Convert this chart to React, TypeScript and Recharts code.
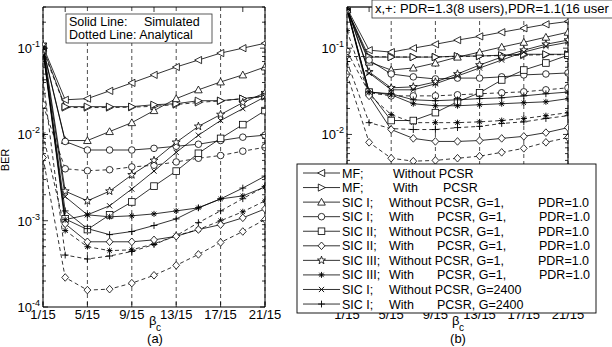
import { CartesianGrid, Line, LineChart, XAxis, YAxis } from "recharts";

// beta_c in units of 1/15
const betaN = [1, 3, 5, 7, 9, 11, 13, 15, 17, 19, 21];
const xTicks = [1, 5, 9, 13, 17, 21];
const decadeTicks = [1e-4, 1e-3, 1e-2, 1e-1];
const yTicks = [
  1e-4, 2e-4, 3e-4, 4e-4, 5e-4, 6e-4, 7e-4, 8e-4, 9e-4,
  1e-3, 2e-3, 3e-3, 4e-3, 5e-3, 6e-3, 7e-3, 8e-3, 9e-3,
  1e-2, 2e-2, 3e-2, 4e-2, 5e-2, 6e-2, 7e-2, 8e-2, 9e-2,
  1e-1, 2e-1, 3e-1,
];

// (a) 8 users
const leftMfWithout = [0.105, 0.0252, 0.026, 0.032, 0.0396, 0.049, 0.0605, 0.0728, 0.0877, 0.1, 0.114];
const leftMfWith = [0.1, 0.021, 0.021, 0.021, 0.021, 0.0221, 0.0227, 0.0246, 0.0246, 0.026, 0.028];
const leftMfWithAna = [0.095, 0.0205, 0.0205, 0.0205, 0.0207, 0.0212, 0.0222, 0.0235, 0.0245, 0.026, 0.0275];
const leftSic1Without = [0.1, 0.0085, 0.0085, 0.0108, 0.0137, 0.0189, 0.026, 0.0329, 0.0406, 0.049, 0.0605];
const leftSic1With = [0.098, 0.0083, 0.0066, 0.0066, 0.0066, 0.0069, 0.0073, 0.0077, 0.0085, 0.0093, 0.0098];
const leftSic1WithAna = [0.022, 0.004, 0.0038, 0.0039, 0.0042, 0.0044, 0.0048, 0.0053, 0.0057, 0.0064, 0.0071];
const leftSic2Without = [0.095, 0.00105, 0.00079, 0.00117, 0.00165, 0.00252, 0.00376, 0.00605, 0.009, 0.013, 0.0189];
const leftSic2With = [0.093, 0.00092, 0.00057, 0.00057, 0.00057, 0.0006, 0.00066, 0.00079, 0.0009, 0.00108, 0.00137];
const leftSic2WithAna = [0.0054, 0.00022, 0.000157, 0.000161, 0.000189, 0.000233, 0.000304, 0.000407, 0.00056, 0.00075, 0.00103];
const leftSic3Without = [0.11, 0.0022, 0.0017, 0.0022, 0.0034, 0.005, 0.0081, 0.0124, 0.017, 0.0234, 0.0304];
const leftSic3With = [0.1, 0.00103, 0.00117, 0.00111, 0.00114, 0.0012, 0.0013, 0.00141, 0.00179, 0.00194, 0.00246];
const leftSic3WithAna = [0.01, 0.00077, 0.0005, 0.00045, 0.00046, 0.00054, 0.00067, 0.00079, 0.001, 0.00127, 0.0017];
const leftG2400Without = [0.1, 0.0019, 0.00117, 0.00149, 0.00233, 0.00376, 0.0062, 0.0098, 0.0145, 0.0199, 0.0273];
const leftG2400With = [0.097, 0.0013, 0.00081, 0.00069, 0.00075, 0.00088, 0.00105, 0.00141, 0.00179, 0.00239, 0.00329];
const leftG2400WithAna = [0.043, 0.0004, 0.00036, 0.00039, 0.00044, 0.00053, 0.00067, 0.00095, 0.0013, 0.0018, 0.0025];

// (b) 16 users
const rightMfWithout = [0.29, 0.0948, 0.09, 0.1, 0.111, 0.124, 0.137, 0.153, 0.17, 0.189, 0.204];
const rightMfWith = [0.28, 0.0788, 0.0788, 0.0788, 0.0788, 0.081, 0.081, 0.083, 0.085, 0.085, 0.085];
const rightMfWithAna = [0.08, 0.08, 0.079, 0.079, 0.079, 0.08, 0.081, 0.082, 0.083, 0.084, 0.084];
const rightSic1Without = [0.28, 0.069, 0.0558, 0.0589, 0.0673, 0.0788, 0.09, 0.103, 0.117, 0.134, 0.153];
const rightSic1With = [0.28, 0.0728, 0.0502, 0.0465, 0.044, 0.045, 0.045, 0.0465, 0.049, 0.0502, 0.0516];
const rightSic1WithAna = [0.092, 0.0304, 0.028, 0.028, 0.028, 0.0288, 0.0296, 0.0304, 0.0312, 0.0329, 0.0347];
const rightSic2Without = [0.28, 0.031, 0.0145, 0.0145, 0.0179, 0.0239, 0.0304, 0.0428, 0.0558, 0.0673, 0.083];
const rightSic2With = [0.28, 0.028, 0.0114, 0.009, 0.0083, 0.0083, 0.0085, 0.009, 0.0095, 0.0105, 0.012];
const rightSic2WithAna = [0.05, 0.0081, 0.0053, 0.0049, 0.005, 0.0053, 0.0056, 0.0062, 0.0069, 0.0081, 0.0092];
const rightSic3Without = [0.3, 0.053, 0.0347, 0.0356, 0.0406, 0.0502, 0.0638, 0.0788, 0.0948, 0.111, 0.124];
const rightSic3With = [0.29, 0.0312, 0.0288, 0.0227, 0.0215, 0.0215, 0.0221, 0.0227, 0.0233, 0.0239, 0.026];
const rightSic3WithAna = [0.16, 0.0288, 0.017, 0.0137, 0.0137, 0.0137, 0.014, 0.0145, 0.0153, 0.0165, 0.0179];
const rightG2400Without = [0.29, 0.0516, 0.0329, 0.0329, 0.0386, 0.0476, 0.0589, 0.0728, 0.09, 0.105, 0.117];
const rightG2400With = [0.28, 0.031, 0.0296, 0.0252, 0.0246, 0.0252, 0.026, 0.0266, 0.028, 0.0296, 0.031];
const rightG2400WithAna = [0.07, 0.0137, 0.0117, 0.0114, 0.0114, 0.012, 0.0124, 0.0134, 0.014, 0.0153, 0.0165];

const legendLabels = [
  ["MF;", "Without PCSR"],
  ["MF;", "With", "PCSR"],
  ["SIC I;", "Without PCSR, G=1,", "PDR=1.0"],
  ["SIC I;", "With", "PCSR, G=1,", "PDR=1.0"],
  ["SIC II;", "Without PCSR, G=1,", "PDR=1.0"],
  ["SIC II;", "With", "PCSR, G=1,", "PDR=1.0"],
  ["SIC III;", "Without PCSR, G=1,", "PDR=1.0"],
  ["SIC III;", "With", "PCSR, G=1,", "PDR=1.0"],
  ["SIC I;", "Without PCSR, G=2400"],
  ["SIC I;", "With", "PCSR, G=2400"],
];
const legendMarkers = ["triLeft", "triRight", "triUp", "circle", "square", "diamond", "star", "asterisk", "cross", "plus"];

type Series = { key: string; values: number[]; marker: string; dashed: boolean };

const leftSeries: Series[] = [
  { key: "mfWithAna", values: leftMfWithAna, marker: "triRight", dashed: true },
  { key: "sic1WithAna", values: leftSic1WithAna, marker: "circle", dashed: true },
  { key: "sic2WithAna", values: leftSic2WithAna, marker: "diamond", dashed: true },
  { key: "sic3WithAna", values: leftSic3WithAna, marker: "asterisk", dashed: true },
  { key: "g2400WithAna", values: leftG2400WithAna, marker: "plus", dashed: true },
  { key: "mfWithout", values: leftMfWithout, marker: "triLeft", dashed: false },
  { key: "mfWith", values: leftMfWith, marker: "triRight", dashed: false },
  { key: "sic1Without", values: leftSic1Without, marker: "triUp", dashed: false },
  { key: "sic1With", values: leftSic1With, marker: "circle", dashed: false },
  { key: "sic2Without", values: leftSic2Without, marker: "square", dashed: false },
  { key: "sic2With", values: leftSic2With, marker: "diamond", dashed: false },
  { key: "sic3Without", values: leftSic3Without, marker: "star", dashed: false },
  { key: "sic3With", values: leftSic3With, marker: "asterisk", dashed: false },
  { key: "g2400Without", values: leftG2400Without, marker: "cross", dashed: false },
  { key: "g2400With", values: leftG2400With, marker: "plus", dashed: false },
];

const rightSeries: Series[] = [
  { key: "mfWithAna", values: rightMfWithAna, marker: "triRight", dashed: true },
  { key: "sic1WithAna", values: rightSic1WithAna, marker: "circle", dashed: true },
  { key: "sic2WithAna", values: rightSic2WithAna, marker: "diamond", dashed: true },
  { key: "sic3WithAna", values: rightSic3WithAna, marker: "asterisk", dashed: true },
  { key: "g2400WithAna", values: rightG2400WithAna, marker: "plus", dashed: true },
  { key: "mfWithout", values: rightMfWithout, marker: "triLeft", dashed: false },
  { key: "mfWith", values: rightMfWith, marker: "triRight", dashed: false },
  { key: "sic1Without", values: rightSic1Without, marker: "triUp", dashed: false },
  { key: "sic1With", values: rightSic1With, marker: "circle", dashed: false },
  { key: "sic2Without", values: rightSic2Without, marker: "square", dashed: false },
  { key: "sic2With", values: rightSic2With, marker: "diamond", dashed: false },
  { key: "sic3Without", values: rightSic3Without, marker: "star", dashed: false },
  { key: "sic3With", values: rightSic3With, marker: "asterisk", dashed: false },
  { key: "g2400Without", values: rightG2400Without, marker: "cross", dashed: false },
  { key: "g2400With", values: rightG2400With, marker: "plus", dashed: false },
];

const toRows = (series: Series[]) =>
  betaN.map((n, i) => {
    const row: Record<string, number> = { n };
    series.forEach((s) => (row[s.key] = s.values[i]));
    return row;
  });

const FONT = '"Liberation Sans", Arial, sans-serif';

function Marker({ cx, cy, kind }: { cx: number; cy: number; kind: string }) {
  const s = { stroke: "#000", strokeWidth: 0.8, fill: "#fff" };
  const l = { stroke: "#000", strokeWidth: 0.9 };
  switch (kind) {
    case "triLeft":
      return <polygon points={`${cx - 3.8},${cy} ${cx + 3.2},${cy - 3.6} ${cx + 3.2},${cy + 3.6}`} {...s} />;
    case "triRight":
      return <polygon points={`${cx + 3.8},${cy} ${cx - 3.2},${cy - 3.6} ${cx - 3.2},${cy + 3.6}`} {...s} />;
    case "triUp":
      return <polygon points={`${cx},${cy - 3.8} ${cx - 3.8},${cy + 3} ${cx + 3.8},${cy + 3}`} {...s} />;
    case "circle":
      return <circle cx={cx} cy={cy} r={3.3} {...s} />;
    case "square":
      return <rect x={cx - 3.3} y={cy - 3.3} width={6.6} height={6.6} {...s} />;
    case "diamond":
      return <polygon points={`${cx},${cy - 3.8} ${cx + 3.4},${cy} ${cx},${cy + 3.8} ${cx - 3.4},${cy}`} {...s} />;
    case "star": {
      const pts: string[] = [];
      for (let k = 0; k < 10; k++) {
        const r = k % 2 === 0 ? 4.2 : 1.7;
        const a = -Math.PI / 2 + (k * Math.PI) / 5;
        pts.push(`${cx + r * Math.cos(a)},${cy + r * Math.sin(a)}`);
      }
      return <polygon points={pts.join(" ")} {...s} />;
    }
    case "asterisk":
      return (
        <g>
          <line x1={cx - 3} x2={cx + 3} y1={cy} y2={cy} {...l} />
          <line x1={cx} x2={cx} y1={cy - 3} y2={cy + 3} {...l} />
          <line x1={cx - 2.2} x2={cx + 2.2} y1={cy - 2.2} y2={cy + 2.2} {...l} />
          <line x1={cx - 2.2} x2={cx + 2.2} y1={cy + 2.2} y2={cy - 2.2} {...l} />
        </g>
      );
    case "cross":
      return (
        <g>
          <line x1={cx - 2.6} x2={cx + 2.6} y1={cy - 2.6} y2={cy + 2.6} {...l} />
          <line x1={cx - 2.6} x2={cx + 2.6} y1={cy + 2.6} y2={cy - 2.6} {...l} />
        </g>
      );
    default:
      return (
        <g>
          <line x1={cx - 3.4} x2={cx + 3.4} y1={cy} y2={cy} {...l} />
          <line x1={cx} x2={cx} y1={cy - 3.4} y2={cy + 3.4} {...l} />
        </g>
      );
  }
}

const dotFor = (kind: string) => (p: any) => (
  <g key={`${kind}-${p.index}`}>
    <Marker cx={p.cx} cy={p.cy} kind={kind} />
  </g>
);

const isDecade = (v: number) => decadeTicks.some((d) => Math.abs(d - v) / d < 1e-6);

function YTickLeft({ x, y, payload }: any) {
  const v = payload.value;
  const major = isDecade(v);
  const exp = Math.round(Math.log10(v));
  return (
    <g>
      <line x1={x} x2={x + (major ? 5 : 3)} y1={y} y2={y} stroke="#000" strokeWidth={0.8} />
      {major && (
        <>
          <text x={x - 11} y={y + 5} textAnchor="end" fontSize={13} fontFamily={FONT}>10</text>
          <text x={x - 11} y={y - 1} fontSize={9} fontFamily={FONT}>{exp}</text>
        </>
      )}
    </g>
  );
}

function YTickRight({ x, y, payload }: any) {
  const major = isDecade(payload.value);
  return <line x1={x} x2={x - (major ? 5 : 3)} y1={y} y2={y} stroke="#000" strokeWidth={0.8} />;
}

function XTickBottom({ x, y, payload }: any) {
  return (
    <g>
      <line x1={x} x2={x} y1={y} y2={y - 5} stroke="#000" strokeWidth={0.8} />
      <text x={x} y={y + 12} textAnchor="middle" fontSize={13} fontFamily={FONT}>
        {`${payload.value}/15`}
      </text>
    </g>
  );
}

function XTickTop({ x, y }: any) {
  return <line x1={x} x2={x} y1={y} y2={y + 5} stroke="#000" strokeWidth={0.8} />;
}

function Panel({ series, left, marginLeft, marginRight }: { series: Series[]; left: number; marginLeft: number; marginRight: number }) {
  return (
    <div style={{ position: "absolute", left, top: 0 }}>
      <LineChart
        width={300}
        height={347}
        data={toRows(series)}
        margin={{ top: 6, right: marginRight, bottom: 39, left: marginLeft }}
      >
        <CartesianGrid horizontal={false} stroke="#000" strokeWidth={0.7} strokeDasharray="4 3" />
        <XAxis
          dataKey="n"
          type="number"
          domain={[1, 21]}
          ticks={xTicks}
          interval={0}
          height={1}
          tickSize={0}
          tickMargin={0}
          tickLine={false}
          axisLine={{ stroke: "#000" }}
          tick={<XTickBottom />}
          allowDataOverflow
        />
        <XAxis
          xAxisId="top"
          orientation="top"
          type="number"
          domain={[1, 21]}
          ticks={xTicks}
          interval={0}
          height={1}
          tickSize={0}
          tickMargin={0}
          tickLine={false}
          axisLine={{ stroke: "#000" }}
          tick={<XTickTop />}
          allowDataOverflow
        />
        <YAxis
          type="number"
          scale="log"
          domain={[1e-4, 0.3]}
          ticks={yTicks}
          interval={0}
          width={40}
          tickSize={0}
          tickMargin={0}
          tickLine={false}
          axisLine={{ stroke: "#000" }}
          tick={<YTickLeft />}
          allowDataOverflow
        />
        <YAxis
          yAxisId="right"
          orientation="right"
          type="number"
          scale="log"
          domain={[1e-4, 0.3]}
          ticks={yTicks}
          interval={0}
          width={1}
          tickSize={0}
          tickMargin={0}
          tickLine={false}
          axisLine={{ stroke: "#000" }}
          tick={<YTickRight />}
          allowDataOverflow
        />
        {series.map((s) => (
          <Line
            key={s.key}
            dataKey={s.key}
            type="linear"
            stroke="#000"
            strokeWidth={0.8}
            strokeDasharray={s.dashed ? "4 3" : undefined}
            dot={dotFor(s.marker)}
            activeDot={false}
            isAnimationActive={false}
          />
        ))}
      </LineChart>
    </div>
  );
}

function Overlay() {
  const rowY = (i: number) => 173 + i * 14.56;
  const cols = (row: string[]) => {
    const withCol = row[1] === "With";
    const xs = [342, row[0] === "MF;" ? 393 : 389];
    if (row.length > 2) xs.push(withCol ? (row[0] === "MF;" ? 443 : 437) : 538);
    if (row.length > 3) xs.push(539);
    return xs;
  };
  return (
    <svg width={612} height={347} style={{ position: "absolute", left: 0, top: 0 }} fontFamily={FONT}>
      {/* left panel note */}
      <rect x={66} y={14} width={146} height={29} fill="#fff" stroke="#333" strokeWidth={0.8} />
      <text x={69} y={26} fontSize={12.5}>Solid Line:</text>
      <text x={144} y={26} fontSize={12.5}>Simulated</text>
      <text x={69} y={39} fontSize={12.5}>Dotted Line: Analytical</text>
      {/* right panel note */}
      <line x1={350} x2={372} y1={7} y2={7} stroke="#333" strokeWidth={0.8} />
      <rect x={372} y={0} width={260} height={18} fill="#fff" stroke="#333" strokeWidth={0.8} />
      <text x={375} y={13} fontSize={13}>x,+: PDR=1.3(8 users),PDR=1.1(16 user</text>
      {/* axis labels */}
      <text transform="translate(9,160) rotate(-90)" textAnchor="middle" fontSize={11}>BER</text>
      <text x={149} y={325} fontSize={13}>β</text>
      <text x={156} y={331} fontSize={10}>c</text>
      <text x={155} y={343} textAnchor="middle" fontSize={13}>(a)</text>
      <text x={452} y={325} fontSize={13}>β</text>
      <text x={459} y={331} fontSize={10}>c</text>
      <text x={458} y={343} textAnchor="middle" fontSize={13}>(b)</text>
      {/* legend */}
      <rect x={297} y={164} width={299} height={149} fill="#fff" stroke="#000" strokeWidth={0.9} />
      {legendLabels.map((row, i) => {
        const y = rowY(i);
        const xs = cols(row);
        return (
          <g key={i}>
            <line x1={303} x2={340} y1={y} y2={y} stroke="#000" strokeWidth={0.8} />
            <Marker cx={321.5} cy={y} kind={legendMarkers[i]} />
            {row.map((t, j) => (
              <text key={j} x={xs[j]} y={y + 4.5} fontSize={12.5}>{t}</text>
            ))}
          </g>
        );
      })}
    </svg>
  );
}

export default function App() {
  return (
    <div style={{ position: "absolute", left: 0, top: 0, width: 612, height: 347, background: "#fff", overflow: "hidden" }}>
      <Panel series={leftSeries} left={0} marginLeft={3} marginRight={34} />
      <Panel series={rightSeries} left={300} marginLeft={7} marginRight={31} />
      <Overlay />
    </div>
  );
}
